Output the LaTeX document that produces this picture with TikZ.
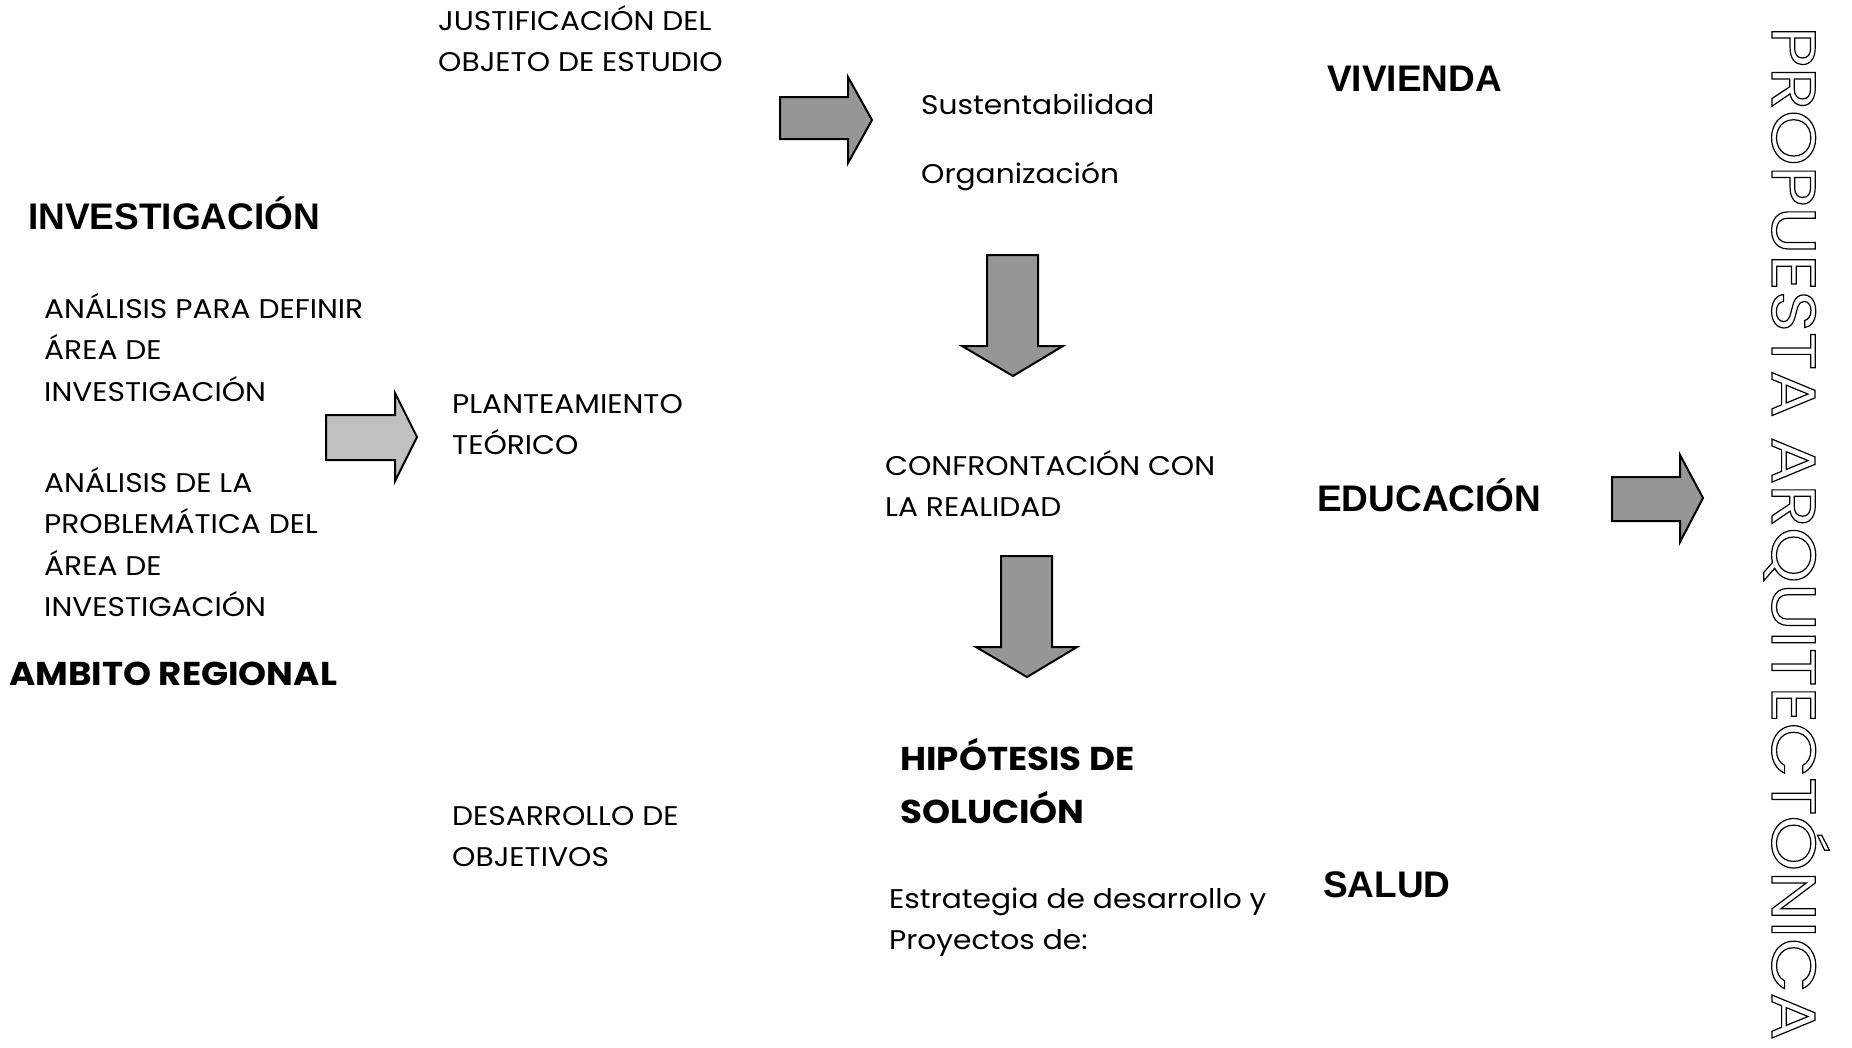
\documentclass[tikz,border=0pt]{standalone}
\usepackage{fontspec}
\newfontfamily\cg[FakeStretch=1.1]{Poppins}
\newfontfamily\cgb[FakeStretch=1.08]{Poppins}
\newfontfamily\cgv[FakeStretch=1.14]{Poppins}
\newfontfamily\ar{Liberation Sans}
\definecolor{arrdark}{HTML}{969696}
\definecolor{arrlight}{HTML}{C0C0C0}
\newcommand\outlinetxt[1]{\special{pdf:literal q 1 Tr 1.2 w}#1\special{pdf:literal Q}}
\tikzset{
  body/.style={font=\cg\fontsize{27}{41.5}\selectfont, align=left, inner sep=0pt, anchor=base west},
  hbold/.style={font=\cgb\bfseries\fontsize{33}{53}\selectfont, align=left, inner sep=0pt, anchor=base west},
  head/.style={font=\ar\bfseries\fontsize{37}{44}\selectfont, inner sep=0pt, anchor=base west},
  blockarr/.style={draw=black, line width=2pt, line join=miter, fill=arrdark},
}
\begin{document}
\begin{tikzpicture}[x=1pt,y=-1pt]
\useasboundingbox (0,0) rectangle (1852,1047);
% texts (anchor = baseline of the last line)
\node[body] (just) at (438,71.5) {JUSTIFICACIÓN DEL\\OBJETO DE ESTUDIO};
\node[body] (sust) at (921,114) {Sustentabilidad};
\node[body] (org) at (921,183) {Organización};
\node[head] (viv) at (1327,91) {VIVIENDA};
\node[head] (inv) at (28,229) {INVESTIGACIÓN};
\node[body] (an1) at (44,401) {ANÁLISIS PARA DEFINIR\\ÁREA DE\\INVESTIGACIÓN};
\node[body] (plan) at (452,454.5) {PLANTEAMIENTO\\TEÓRICO};
\node[body] (conf) at (885,516.5) {CONFRONTACIÓN CON\\LA REALIDAD};
\node[head] (edu) at (1317,511) {EDUCACIÓN};
\node[body] (an2) at (44,616.5) {ANÁLISIS DE LA\\PROBLEMÁTICA DEL\\ÁREA DE\\INVESTIGACIÓN};
\node[hbold] (amb) at (9,685) {AMBITO REGIONAL};
\node[hbold] (hip) at (900,823) {HIPÓTESIS DE\\SOLUCIÓN};
\node[body] (des) at (452,866.5) {DESARROLLO DE\\OBJETIVOS};
\node[head] (sal) at (1323,897) {SALUD};
\node[body] (est) at (889,949.5) {Estrategia de desarrollo y\\Proyectos de:};
\node[rotate=-90, anchor=base west, inner sep=0pt, font=\cgv\fontsize{62}{70}\selectfont] (prop) at (1772,26) {\outlinetxt{PROPUESTA ARQUITECTÓNICA}};
% block arrows
\draw[blockarr] (780,97) -- (848,97) -- (848,77) -- (872,120) -- (848,163) -- (848,139) -- (780,139) -- cycle;
\draw[blockarr, fill=arrlight] (326,415) -- (395,415) -- (395,393) -- (417,437) -- (395,481) -- (395,460) -- (326,460) -- cycle;
\draw[blockarr] (1612,477) -- (1680,477) -- (1680,455) -- (1703,498) -- (1680,542) -- (1680,521) -- (1612,521) -- cycle;
\draw[blockarr] (987,255) -- (1038,255) -- (1038,346) -- (1063,346) -- (1013,376) -- (962,346) -- (987,346) -- cycle;
\draw[blockarr] (1001,556) -- (1052,556) -- (1052,647) -- (1077,647) -- (1027,677) -- (976,647) -- (1001,647) -- cycle;
\end{tikzpicture}
\end{document}
